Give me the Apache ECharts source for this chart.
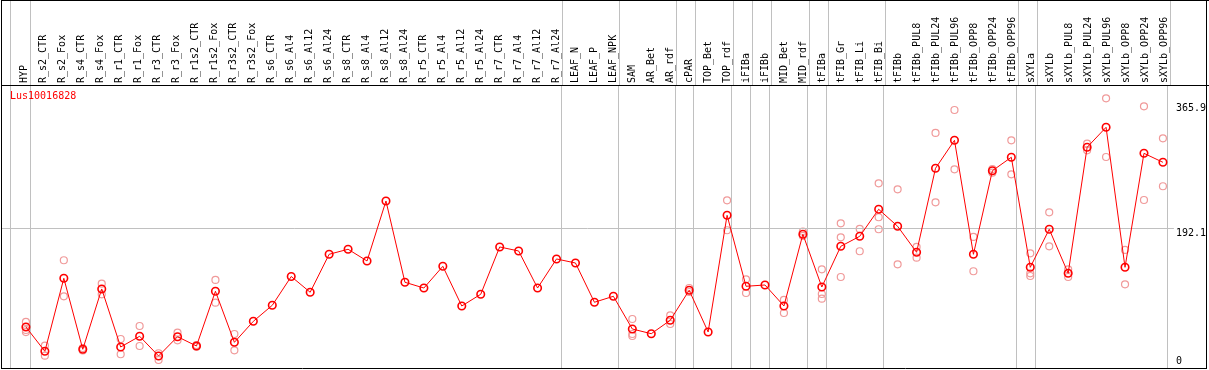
<!DOCTYPE html>
<html>
<head>
<meta charset="utf-8">
<script src="https://cdn.jsdelivr.net/npm/echarts@6/dist/echarts.min.js"></script>
<style>
html,body{margin:0;padding:0;background:#fff;}
#c{width:1209px;height:370px;}
</style>
</head>
<body>
<div id="c"></div>
<script>
// ---------------- data ----------------
const geneId = 'Lus10016828';

const categories = [
  'HYP','R_s2_CTR','R_s2_Fox','R_s4_CTR','R_s4_Fox','R_r1_CTR','R_r1_Fox','R_r3_CTR','R_r3_Fox',
  'R_r1s2_CTR','R_r1s2_Fox','R_r3s2_CTR','R_r3s2_Fox',
  'R_s6_CTR','R_s6_Al4','R_s6_Al12','R_s6_Al24','R_s8_CTR','R_s8_Al4','R_s8_Al12','R_s8_Al24',
  'R_r5_CTR','R_r5_Al4','R_r5_Al12','R_r5_Al24','R_r7_CTR','R_r7_Al4','R_r7_Al12','R_r7_Al24',
  'LEAF_N','LEAF_P','LEAF_NPK','SAM','AR_Bet','AR_rdf','cPAR','TOP_Bet','TOP_rdf','iFIBa','iFIBb',
  'MID_Bet','MID_rdf','tFIBa','tFIB_Gr','tFIB_Li','tFIB_Bi','tFIBb',
  'tFIBb_PUL8','tFIBb_PUL24','tFIBb_PUL96','tFIBb_OPP8','tFIBb_OPP24','tFIBb_OPP96',
  'sXYLa','sXYLb','sXYLb_PUL8','sXYLb_PUL24','sXYLb_PUL96','sXYLb_OPP8','sXYLb_OPP24','sXYLb_OPP96'
];

// mean expression (red line)
const meanValues = [
  54.9, 21.1, 122.6, 23.9, 107.8, 27.1, 42.0, 14.6, 41.4,
  28.5, 104.6, 33.6, 62.8,
  85.1, 125.1, 103.2, 156.0, 163.0, 146.7, 230.1, 117.1,
  109.1, 139.3, 84.1, 100.4, 166.2, 160.6, 109.1, 149.5,
  143.9, 89.3, 97.6, 52.1, 45.6, 64.2, 106.0, 48.0, 210.2, 111.5, 113.3,
  84.1, 183.8, 110.5, 167.1, 181.0, 218.6, 194.9,
  158.8, 275.6, 314.5, 156.0, 272.2, 290.9,
  137.9, 190.8, 129.6, 304.8, 332.6, 137.9, 296.4, 283.9
];

// replicate values (pale circles), null = no visible replicate
const rep1 = [
  61.9, 28.9, 147.7, 25.7, 115.1, 38.2, 56.3, 18.4, 47.0,
  29.9, 120.3, 45.2, null,
  null, null, null, null, null, null, null, null,
  null, null, null, null, null, null, null, null,
  null, null, null, 66.0, null, 71.2, 109.1, null, 231.1, 121.2, null,
  92.5, 187.4, 135.1, 199.1, 191.2, 254.7, 246.4,
  166.2, 324.7, 356.6, 180.1, 274.6, 314.5,
  157.4, 214.4, 135.1, 309.8, 372.9, 162.0, 361.8, 317.3
];
const rep2 = [
  50.7, 15.0, 97.6, 22.2, 100.4, 17.0, 28.5, 9.0, 36.4,
  27.5, 88.7, 22.5, null,
  null, null, null, null, null, null, null, null,
  null, null, null, null, null, null, null, null,
  null, null, null, 45.2, null, 59.1, 103.6, null, 189.4, 102.2, null,
  74.4, 181.5, 100.8, 179.6, 160.2, 207.5, 142.1,
  151.3, 228.3, 274.2, 132.4, 269.5, 267.2,
  129.6, 167.1, 124.4, 300.6, 291.3, 114.3, 231.5, 250.6
];
const rep3 = [
  47.9, null, null, null, null, null, null, null, null,
  null, null, null, null,
  null, null, null, null, null, null, null, null,
  null, null, null, null, null, null, null, null,
  null, null, null, 42.4, null, null, null, null, null, null, null,
  null, null, 94.3, 124.4, null, 190.8, null,
  null, null, null, null, null, null,
  125.8, null, null, null, null, null, null, null
];

// right-hand tick labels
const yTickLabels = [192.1, 365.9];
const yZeroLabel = [0];
const gridLineValues = [192.1];

// group separators: drawn after these category indices
const separatorAfter = [0, 28, 31, 34, 35, 37, 38, 39, 41, 42, 45, 52, 53, 60];

// ---------------- layout / style ----------------
const FONT = 'DejaVu Sans Mono';
const X_MIN = -1.3158, X_MAX = 60.579;   // index range shown across the plot width
const LABEL_SHIFT = 0.105;                // header labels sit slightly left of the points
const SEP_OFFSET = 0.237;                 // separator offset from the category point
const LEAD_SEP = -0.816;                  // separator before the first category
const Y_MIN = -3.5, Y_MAX = 390;

const sepPositions = [LEAD_SEP].concat(separatorAfter.map(i => i + SEP_OFFSET));

const repData = [];
[rep1, rep2, rep3].forEach(arr => arr.forEach((v, i) => { if (v != null) repData.push([i, v]); }));
const meanData = meanValues.map((v, i) => [i, v]);

const sepLineStyle = { color: '#c0c0c0', width: 1, type: 'solid' };

const option = {
  animation: false,
  backgroundColor: '#ffffff',
  title: {
    text: geneId, left: 10, top: 91, padding: 0,
    textStyle: { color: '#ff0000', fontSize: 10, fontWeight: 'normal', fontFamily: FONT }
  },
  grid: [
    { left: 1, top: 1, width: 1176, height: 84 },
    { left: 1, top: 86, width: 1176, height: 283 }
  ],
  xAxis: [
    {
      gridIndex: 0, type: 'value', position: 'bottom',
      min: X_MIN + LABEL_SHIFT, max: X_MAX + LABEL_SHIFT,
      axisLine: { show: false }, axisTick: { show: false }, splitLine: { show: false },
      axisLabel: {
        inside: true, rotate: 90, margin: 2, hideOverlap: false,
        customValues: categories.map((c, i) => i),
        formatter: v => categories[v],
        fontFamily: FONT, fontSize: 10, color: '#000'
      }
    },
    { gridIndex: 0, type: 'value', position: 'top', min: X_MIN, max: X_MAX, show: false },
    { gridIndex: 1, type: 'value', position: 'bottom', min: X_MIN, max: X_MAX, show: false }
  ],
  yAxis: [
    { gridIndex: 0, type: 'value', min: 0, max: 1, show: false },
    {
      gridIndex: 1, type: 'value', position: 'right', min: Y_MIN, max: Y_MAX,
      axisLine: { show: false }, axisTick: { show: false }, splitLine: { show: false },
      axisLabel: {
        customValues: yTickLabels, verticalAlign: 'top', margin: 2,
        formatter: v => String(v), fontFamily: FONT, fontSize: 10, color: '#000'
      }
    },
    {
      gridIndex: 1, type: 'value', position: 'right', min: Y_MIN, max: Y_MAX,
      axisLine: { show: false }, axisTick: { show: false }, splitLine: { show: false },
      axisLabel: {
        customValues: yZeroLabel, verticalAlign: 'bottom', margin: 2,
        formatter: v => String(v), fontFamily: FONT, fontSize: 10, color: '#000'
      }
    }
  ],
  series: [
    {
      type: 'scatter', xAxisIndex: 1, yAxisIndex: 0, data: [], silent: true, z: 1,
      markLine: {
        silent: true, symbol: 'none', animation: false, label: { show: false },
        lineStyle: sepLineStyle,
        data: sepPositions.map(x => ({ xAxis: x }))
      }
    },
    {
      type: 'scatter', xAxisIndex: 2, yAxisIndex: 1, data: [], silent: true, z: 1,
      markLine: {
        silent: true, symbol: 'none', animation: false, label: { show: false },
        lineStyle: sepLineStyle,
        data: sepPositions.map(x => ({ xAxis: x })).concat(gridLineValues.map(y => ({ yAxis: y })))
      }
    },
    {
      type: 'scatter', xAxisIndex: 2, yAxisIndex: 1, data: repData, silent: true, z: 3,
      symbol: 'circle', symbolSize: 7,
      itemStyle: { color: 'rgba(0,0,0,0)', borderColor: '#f09a9a', borderWidth: 1.2, opacity: 1 }
    },
    {
      type: 'line', xAxisIndex: 2, yAxisIndex: 1, data: meanData, silent: true, z: 5,
      symbol: 'circle', symbolSize: 7.5, showSymbol: true, showAllSymbol: true,
      itemStyle: { color: 'rgba(0,0,0,0)', borderColor: '#ff0000', borderWidth: 1.6 },
      lineStyle: { color: '#ff0000', width: 1 }
    }
  ],
  graphic: [
    { type: 'line', silent: true, z: 100, shape: { x1: 1, y1: 0.5, x2: 1209, y2: 0.5 }, style: { stroke: '#000', lineWidth: 1 } },
    { type: 'line', silent: true, z: 100, shape: { x1: 1, y1: 85.5, x2: 1209, y2: 85.5 }, style: { stroke: '#000', lineWidth: 1 } },
    { type: 'line', silent: true, z: 100, shape: { x1: 1, y1: 368.5, x2: 1207, y2: 368.5 }, style: { stroke: '#000', lineWidth: 1 } },
    { type: 'line', silent: true, z: 100, shape: { x1: 1.5, y1: 0, x2: 1.5, y2: 369 }, style: { stroke: '#000', lineWidth: 1 } },
    { type: 'line', silent: true, z: 100, shape: { x1: 1206.5, y1: 0, x2: 1206.5, y2: 369 }, style: { stroke: '#000', lineWidth: 1 } }
  ]
};

const chart = echarts.init(document.getElementById('c'), null, { renderer: 'canvas' });
chart.setOption(option);
</script>
</body>
</html>
